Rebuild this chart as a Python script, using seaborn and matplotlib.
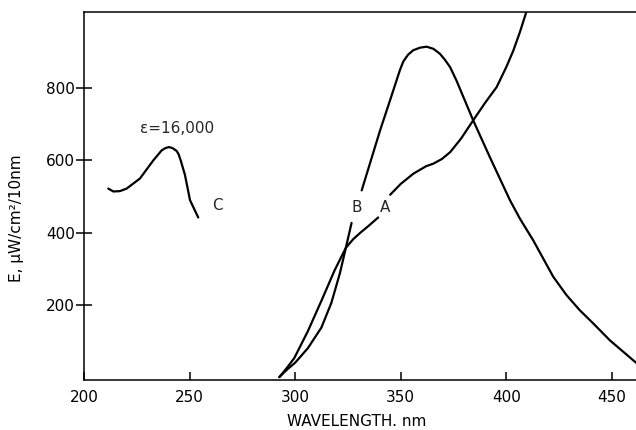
import numpy as np
import pandas as pd
import matplotlib
matplotlib.use("Agg")
import matplotlib.pyplot as plt
import seaborn as sns

# curve A (rises past the top), split where the label "A" sits
a_low_x = [292.5, 296.0, 299.6, 306.0, 312.4, 318.7, 324.0, 327.5, 330.7, 335.0, 339.3]
a_low_e = [0, 25, 53, 127, 211, 296, 358, 382, 399, 420, 442]
a_high_x = [345.0, 350.0, 355.9, 362.0, 365.4, 369.5, 373.4, 378.5, 384.3, 390.0,
            395.4, 400.1, 403.3, 406.4, 410.5]
a_high_e = [505, 535, 563, 584, 591, 604, 623, 660, 711, 760, 803, 860, 904, 955, 1030]

# curve B (peaked), split where the label "B" sits
b_low_x = [292.5, 296.0, 300.0, 306.0, 312.4, 317.1, 321.2, 324.0, 326.7]
b_low_e = [0, 20, 40, 80, 137, 205, 288, 358, 427]
b_high_x = [331.5, 340.2, 344.9, 349.6, 351.2, 353.5, 355.9, 359.0, 362.2, 365.5,
            368.6, 371.0, 373.4, 376.4, 384.3, 392.2, 401.7, 406.4, 412.7, 417.5,
            422.2, 428.5, 434.8, 441.1, 449.0, 455.4, 461.4, 466.0]
b_high_e = [517, 683, 766, 850, 874, 893, 905, 912, 915, 909, 895, 878, 858, 821,
            711, 609, 490, 439, 379, 328, 278, 227, 185, 149, 102, 70, 40, 25]

# curve C
c_x = [211.5, 213.9, 217.0, 220.2, 226.5, 232.8, 236.8, 238.5, 240.2, 242.0, 243.9,
       244.8, 245.8, 247.8, 250.2, 254.1]
c_e = [522, 514, 515, 522, 550, 600, 628, 634, 637, 634, 626, 617, 600, 560, 490, 442]

x_ticks = [200, 250, 300, 350, 400, 450]
y_ticks = [200, 400, 600, 800]

sns.set_style("ticks")
plt.rcParams['font.family'] = ['DejaVu Sans']

fig = plt.figure(figsize=(6.36, 4.30), dpi=100)
ax = fig.add_axes([84 / 636, 50 / 430, 552 / 636, 368 / 430])

segments = [(a_low_x, a_low_e), (a_high_x, a_high_e),
            (b_low_x, b_low_e), (b_high_x, b_high_e), (c_x, c_e)]
for xs, es in segments:
    df = pd.DataFrame({'wl': xs, 'E': es})
    sns.lineplot(data=df, x='wl', y='E', ax=ax, color='black', linewidth=1.6,
                 sort=False, estimator=None)

fs = 11
ax.text(263.0, 474, 'C', fontsize=fs, ha='center', va='center')
ax.text(329.1, 471, 'B', fontsize=fs, ha='center', va='center')
ax.text(342.5, 471, 'A', fontsize=fs, ha='center', va='center')
ax.text(244.0, 689, 'ε=16,000', fontsize=fs, ha='center', va='center')

ax.set_xlim(200, 461.4)
ax.set_ylim(-8, 1011)
ax.set_xticks(x_ticks)
ax.set_yticks(y_ticks)
ax.tick_params(axis='x', direction='in', length=6, width=1.1, pad=7,
               labelsize=fs, colors='black')
ax.tick_params(axis='y', direction='inout', length=11, width=1.1, pad=1,
               labelsize=fs, colors='black')

ax.set_xlabel('WAVELENGTH. nm', fontsize=fs, color='black')
ax.set_ylabel('E, μW/cm²/10nm', fontsize=fs, color='black')
ax.xaxis.set_label_coords(0.494, -0.093)
ax.yaxis.set_label_coords(-0.108, 0.44)

for side in ['left', 'bottom', 'top']:
    ax.spines[side].set_linewidth(1.1)
    ax.spines[side].set_color('black')
ax.spines['right'].set_visible(False)

fig.savefig('out.png', dpi=100)
